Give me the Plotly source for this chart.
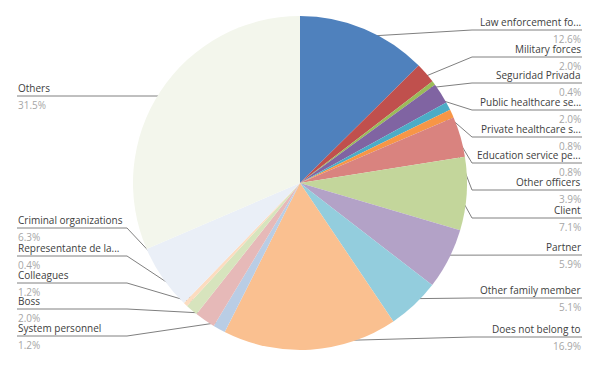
import math
import plotly.graph_objects as go

# ---- data ----
labels = ["Law enforcement fo...", "Military forces", "Seguridad Privada",
          "Public healthcare se...", "Private healthcare s...", "Education service pe...",
          "Other officers", "Client", "Partner", "Other family member",
          "Does not belong to", "System personnel", "Boss", "Colleagues",
          "Representante de la...", "Criminal organizations", "Others"]
values = [12.6, 2.0, 0.4, 2.0, 0.8, 0.8, 3.9, 7.1, 5.9, 5.1,
          16.9, 1.2, 2.0, 1.2, 0.4, 6.3, 31.5]
pct_text = ["12.6%", "2.0%", "0.4%", "2.0%", "0.8%", "0.8%", "3.9%", "7.1%", "5.9%", "5.1%",
            "16.9%", "1.2%", "2.0%", "1.2%", "0.4%", "6.3%", "31.5%"]

# ---- styles / layout ----
colors = ["#4F81BD", "#C0504D", "#9BBB59", "#8064A2", "#4BACC6", "#F79646",
          "#D9837F", "#C3D69B", "#B3A2C7", "#93CDDD", "#FAC090", "#B9CDE5",
          "#E6B9B8", "#D7E4BD", "#FCDCC0", "#EAEFF7", "#F3F6EC"]
# label side and underline y (pixels from top)
label_side = ["R"] * 11 + ["L"] * 6
label_y = [30, 57, 83, 110, 137, 163, 190, 218, 255, 298, 337,
           336, 309, 283, 256, 228, 96]

W, H = 597, 368
CX, CY, R = 300, 183, 167
RX0, RX1 = 472, 582   # right label box
LX0, LX1 = 17, 127    # left label box
FONT = "Open Sans"
FS = 10

fig = go.Figure()
fig.add_trace(go.Pie(
    labels=labels, values=values, sort=False, direction="clockwise", rotation=0,
    marker=dict(colors=colors, line=dict(width=0)),
    textinfo="none", hoverinfo="label+percent", showlegend=False,
    domain=dict(x=[(CX - R) / W, (CX + R) / W], y=[(H - CY - R) / H, (H - CY + R) / H]),
))

total = sum(values)
cum = 0.0
dot_x, dot_y = [], []
for i, v in enumerate(values):
    mid = (cum + v / 2) / total * 2 * math.pi
    cum += v
    dx = CX + 0.95 * R * math.sin(mid)
    dy = CY - 0.95 * R * math.cos(mid)
    dot_x.append(dx)
    dot_y.append(dy)
    y = label_y[i]
    if label_side[i] == "R":
        xs = [dx, RX0, RX1]
        tx, anchor = RX1, "right"
    else:
        near = dx if labels[i] == "Others" else LX1
        xs = [dx, near, LX0]
        tx, anchor = LX0, "left"
    fig.add_trace(go.Scatter(x=xs, y=[dy, y, y], mode="lines",
                             line=dict(color="#808080", width=1),
                             hoverinfo="skip", showlegend=False))
    fig.add_annotation(x=tx, y=y, text=labels[i], showarrow=False, borderpad=0,
                       xanchor=anchor, yanchor="bottom", xref="x", yref="y",
                       font=dict(family=FONT, size=FS, color="#404040"))
    fig.add_annotation(x=tx, y=y + 0.5, text=pct_text[i], showarrow=False, borderpad=0,
                       xanchor=anchor, yanchor="top", xref="x", yref="y",
                       font=dict(family=FONT, size=FS, color="#A6A6A6"))

fig.add_trace(go.Scatter(x=dot_x, y=dot_y, mode="markers",
                         marker=dict(color="#8C8C8C", size=4),
                         hoverinfo="skip", showlegend=False))

fig.update_layout(
    width=W, height=H, margin=dict(l=0, r=0, t=0, b=0),
    paper_bgcolor="white", plot_bgcolor="rgba(0,0,0,0)",
    xaxis=dict(range=[0, W], visible=False, fixedrange=True),
    yaxis=dict(range=[H, 0], visible=False, fixedrange=True),
)

fig.write_html("out.html", config={"displayModeBar": False},
               post_script="document.body.style.margin='0';document.body.style.overflow='hidden';")
